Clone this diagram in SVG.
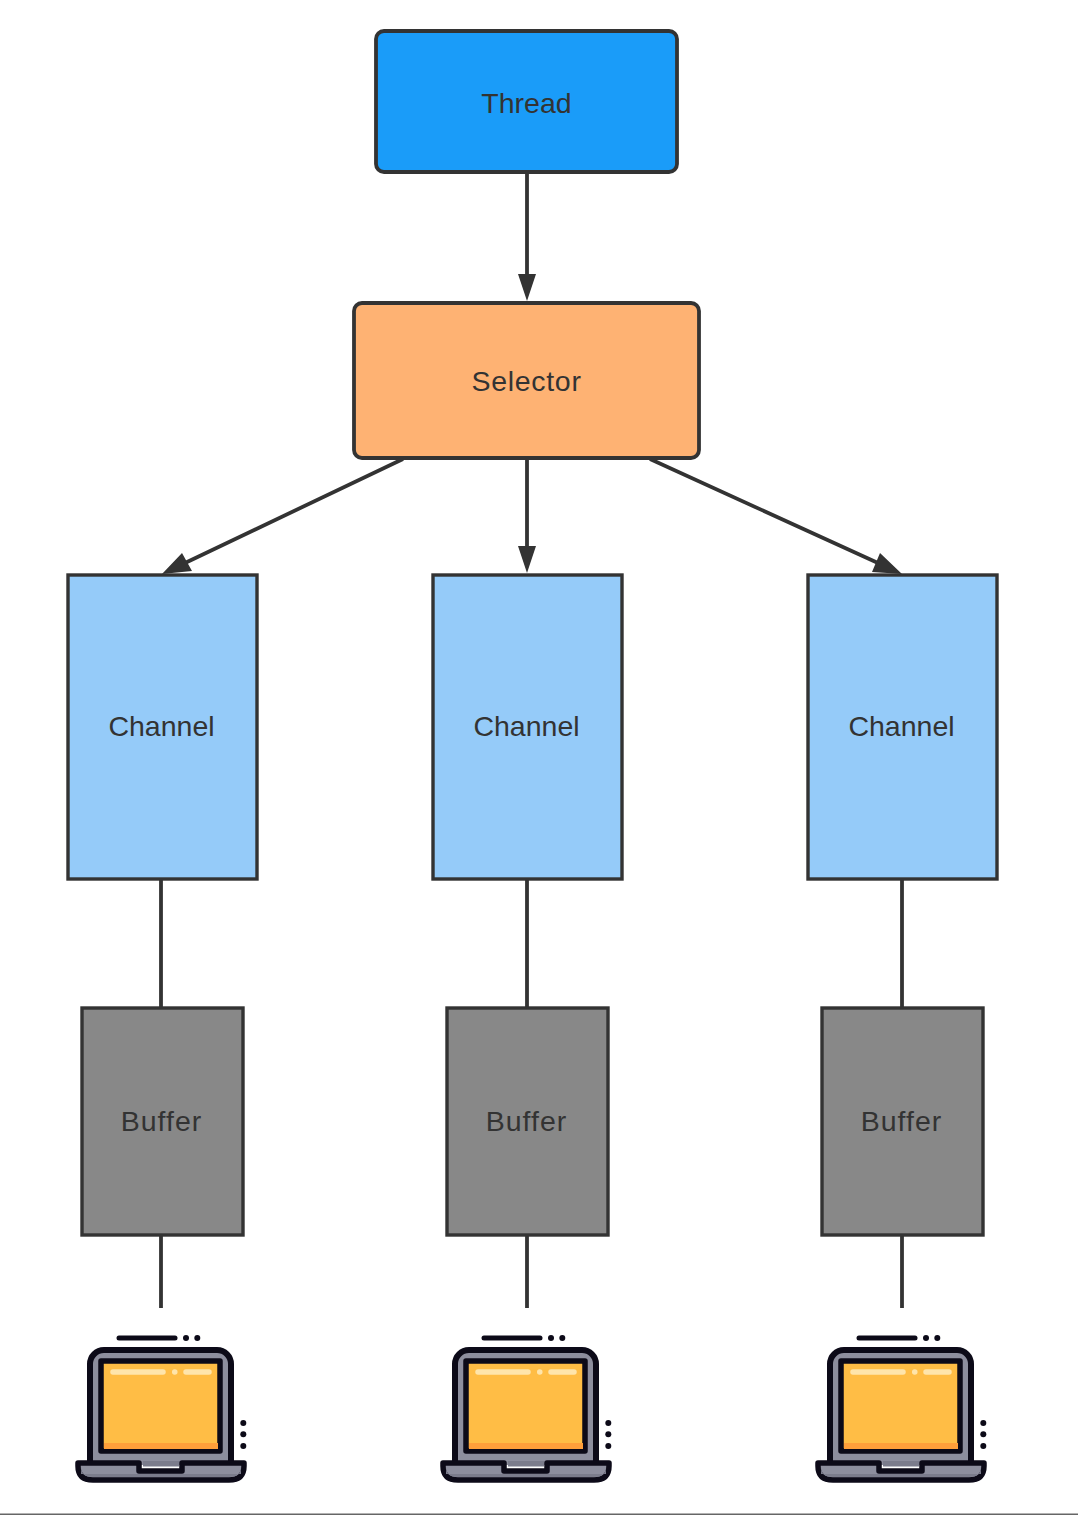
<svg xmlns="http://www.w3.org/2000/svg" width="1078" height="1515" viewBox="0 0 1078 1515">
<style>
.b{stroke:#333;stroke-width:3.400}
.r{stroke:#333;stroke-width:3.800}
.l{font:28.500px "Liberation Sans",Arial,sans-serif;fill:#333;text-anchor:middle}
.s{letter-spacing:.7px}
.f{letter-spacing:1px}
.c{stroke:#333;stroke-width:3.800;fill:none}
.a{fill:#333}
</style>
<defs>
<g id="laptop">
<path d="M-71 150V49a14 14 0 0 1 14-14H56a14 14 0 0 1 14 14V150Z" fill="#8d8e9e" stroke="none"/>
<path d="M-71 150V49a14 14 0 0 1 14-14H56a14 14 0 0 1 14 14V150" fill="none" stroke="#0c0a18" stroke-width="6"/>
<rect x="-60" y="46" width="119" height="90" fill="#ffbd45" stroke="#0c0a18" stroke-width="5.500" stroke-linejoin="round"/>
<rect x="-57" y="128" width="114" height="6" fill="#ff9f3a"/>
<path d="M-48 57H2M13.700 57h.1M25 57H48" stroke="#ffe5ab" stroke-width="5.500" stroke-linecap="round"/>
<path d="M-83 148H-22V156H21V148H83V151Q83 165 68 165H-68Q-83 165 -83 151Z" fill="#8d8e9e" stroke="#0c0a18" stroke-width="5.500" stroke-linejoin="round"/>
<path d="M-80 159H80V152Q80 162 68 162H-68Q-80 162 -80 152Z" fill="#7b7c8c"/>
<rect x="-18" y="146" width="36" height="5.500" fill="#7b7c8c"/>
<path d="M-42 23H14" stroke="#0c0a18" stroke-width="5" stroke-linecap="round"/>
<g fill="#0c0a18"><circle cx="25" cy="23" r="3"/><circle cx="36.300" cy="23" r="3"/><circle cx="82.300" cy="108" r="3"/><circle cx="82.300" cy="119.300" r="3"/><circle cx="82.300" cy="131" r="3"/></g>
</g>
</defs>
<rect width="1078" height="1515" fill="#fff"/>
<g id="connectors">
<path class="c" d="M527 173V280M527 459V552M403 459L185 563M650 459L878 563M161 880V1007M527 880V1007M902 880V1007M161 1236V1308M527 1236V1308M902 1236V1308"/>
<path class="a" d="M518 274H536L527 301ZM518 546H536L527 573ZM162 574L192 571L182 553ZM902 574L880 553L872 572Z"/>
</g>
<g id="thread"><rect class="r" x="376" y="31" width="301" height="141" rx="8" fill="#1a9cf9"/><text class="l" x="526.500" y="113">Thread</text></g>
<g id="selector"><rect class="r" x="354" y="303" width="345" height="155" rx="8" fill="#feb273"/><text class="l s" x="526.500" y="391">Selector</text></g>
<g id="channel1"><rect class="b" x="68" y="575" width="189" height="304" fill="#95cbf9"/><text class="l" x="161.500" y="736">Channel</text></g>
<g id="channel2"><rect class="b" x="433" y="575" width="189" height="304" fill="#95cbf9"/><text class="l" x="526.500" y="736">Channel</text></g>
<g id="channel3"><rect class="b" x="808" y="575" width="189" height="304" fill="#95cbf9"/><text class="l" x="901.500" y="736">Channel</text></g>
<g id="buffer1"><rect class="b" x="82" y="1008" width="161" height="227" fill="#888"/><text class="l f" x="161.500" y="1131">Buffer</text></g>
<g id="buffer2"><rect class="b" x="447" y="1008" width="161" height="227" fill="#888"/><text class="l f" x="526.500" y="1131">Buffer</text></g>
<g id="buffer3"><rect class="b" x="822" y="1008" width="161" height="227" fill="#888"/><text class="l f" x="901.500" y="1131">Buffer</text></g>
<g id="laptop1"><use href="#laptop" transform="translate(161 1315)"/></g>
<g id="laptop2"><use href="#laptop" transform="translate(526 1315)"/></g>
<g id="laptop3"><use href="#laptop" transform="translate(901 1315)"/></g>
<rect y="1513.500" width="1078" height="1.500" fill="#666"/>
</svg>
